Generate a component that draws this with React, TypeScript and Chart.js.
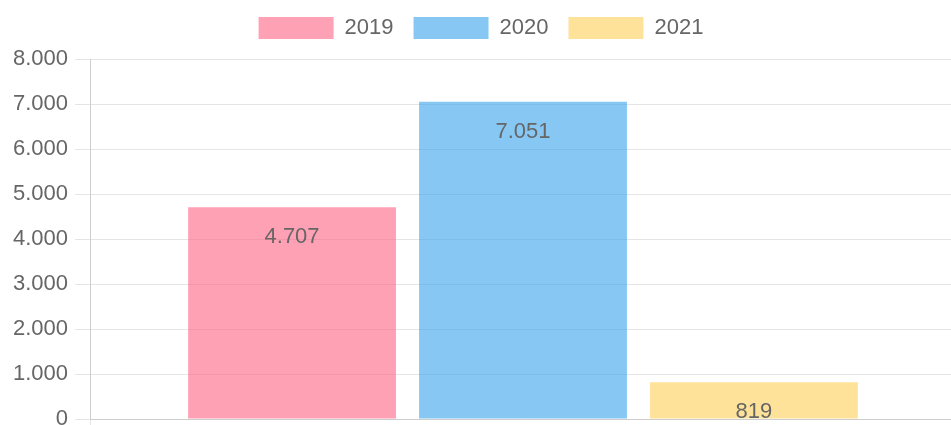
import React, { useEffect, useRef } from 'react';
import { Chart, registerables } from 'chart.js';

Chart.register(...registerables);

const categories = [''];
const seriesNames = ['2019', '2020', '2021'];
const values2019 = [4707];
const values2020 = [7051];
const values2021 = [819];
const fillColors = ['rgba(255,99,132,0.6)', 'rgba(54,162,235,0.6)', 'rgba(255,206,86,0.6)'];
const yMin = 0;
const yMax = 8000;
const yStep = 1000;

const FONT = '"Liberation Sans", Arial, sans-serif';
const TEXT = '#666';
const GRID = 'rgba(0,0,0,0.1)';

const fmt = (v: number) => String(Math.round(v)).replace(/\B(?=(\d{3})+(?!\d))/g, '.');

const valueLabels = {
  id: 'valueLabels',
  afterDatasetsDraw(chart: any) {
    const { ctx, chartArea } = chart;
    ctx.save();
    ctx.beginPath();
    ctx.rect(chartArea.left, chartArea.top, chartArea.right - chartArea.left, chartArea.bottom - chartArea.top);
    ctx.clip();
    ctx.font = `22px ${FONT}`;
    ctx.fillStyle = TEXT;
    ctx.textAlign = 'center';
    ctx.textBaseline = 'middle';
    chart.data.datasets.forEach((ds: any, i: number) => {
      const meta = chart.getDatasetMeta(i);
      meta.data.forEach((el: any, j: number) => {
        ctx.fillText(fmt(ds.data[j]), el.x, el.y + 30);
      });
    });
    ctx.restore();
  },
};

export default function App() {
  const ref = useRef<HTMLCanvasElement>(null);
  useEffect(() => {
    if (!ref.current) return;
    const seriesValues = [values2019, values2020, values2021];
    const chart = new Chart(ref.current, {
      type: 'bar',
      data: {
        labels: categories,
        datasets: seriesNames.map((name, i) => ({
          label: name,
          data: seriesValues[i],
          backgroundColor: fillColors[i],
          borderWidth: 0,
        })),
      },
      options: {
        animation: false,
        responsive: false,
        maintainAspectRatio: false,
        layout: { padding: 0 },
        plugins: {
          legend: {
            position: 'top',
            labels: {
              boxWidth: 75,
              boxHeight: 22,
              padding: 20,
              color: TEXT,
              font: { size: 22, family: FONT },
            },
          },
          title: {
            display: true,
            text: '',
            weight: 500,
            padding: 0,
            font: { size: 10, lineHeight: 1 },
          },
          tooltip: { enabled: false },
        },
        scales: {
          x: {
            afterFit: (s: any) => { s.height = 40; },
            grid: { color: GRID, tickLength: 15, offset: true },
            border: { color: GRID },
            ticks: { color: TEXT, font: { size: 22, family: FONT } },
          },
          y: {
            min: yMin,
            max: yMax,
            afterFit: (s: any) => { s.width = 84; },
            grid: { color: GRID, tickLength: 15 },
            border: { color: GRID },
            ticks: {
              stepSize: yStep,
              padding: 7,
              color: TEXT,
              font: { size: 22, family: FONT },
              callback: (v: any) => fmt(Number(v)),
            },
          },
        },
      },
      plugins: [valueLabels],
    } as any);
    return () => chart.destroy();
  }, []);
  return (
    <div style={{ position: 'fixed', left: 0, top: 0, width: 951, height: 425, overflow: 'hidden', background: '#fff' }}>
      <canvas
        ref={ref}
        width={950}
        height={462}
        style={{ position: 'absolute', left: 6, top: -3, width: 950, height: 462 }}
      />
    </div>
  );
}
